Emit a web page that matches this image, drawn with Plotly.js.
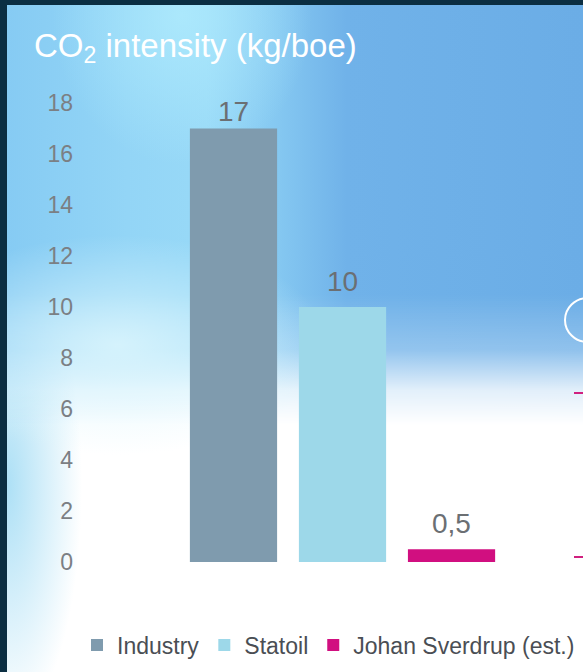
<!DOCTYPE html>
<html>
<head>
<meta charset="utf-8">
<script src="https://cdn.plot.ly/plotly-3.0.1.min.js"></script>
<style>
  html, body { margin: 0; padding: 0; width: 583px; height: 672px; overflow: hidden; background: #0b2e42; }
  #frame { position: absolute; left: 7px; top: 5px; width: 576px; height: 667px; overflow: hidden;
    background:
      radial-gradient(ellipse 75px 240px at 0px 480px, rgba(168,222,245,0.95), rgba(168,222,245,0) 100%),
      #ffffff;
  }
  #sky { position: absolute; left: 0; top: 0; width: 576px; height: 667px;
    background:
      radial-gradient(ellipse 130px 150px at 175px 10px, rgba(175,235,253,0.85), rgba(175,235,253,0) 100%),
      linear-gradient(to right, #86cbf3 0px, #93d5f6 120px, #98d9f7 200px, #85c8f1 270px, #70b2e9 340px, #6badE6 576px);
    -webkit-mask-image: linear-gradient(to bottom, #000 0px, #000 290px, rgba(0,0,0,0.75) 345px, rgba(0,0,0,0.2) 385px, rgba(0,0,0,0) 420px);
    mask-image: linear-gradient(to bottom, #000 0px, #000 290px, rgba(0,0,0,0.75) 345px, rgba(0,0,0,0.2) 385px, rgba(0,0,0,0) 420px);
  }
  #haze { position: absolute; left: 0; top: 0; width: 576px; height: 667px;
    background: radial-gradient(ellipse 210px 110px at 110px 340px, rgba(220,246,253,0.85), rgba(220,246,253,0) 100%);
  }
  #chart { position: absolute; left: 0; top: 0; width: 583px; height: 672px; z-index: 2; }
</style>
</head>
<body>
<div id="frame"><div id="sky"></div><div id="haze"></div></div>
<div id="chart"></div>
<script>
const series = ["Industry", "Statoil", "Johan Sverdrup (est.)"];
const values = [17, 10, 0.5];
const valueLabels = ["17", "10", "0,5"];
const colors = ["#7f9bae", "#9dd8e9", "#d10f80"];
const tickVals = [0, 2, 4, 6, 8, 10, 12, 14, 16, 18];
const labelShift = [0, 8, 8]; // style: gap between bar top and value label

const traces = series.map((name, i) => ({
  type: "bar",
  name: name,
  x: [i],
  y: [values[i]],
  marker: { color: colors[i] },
  width: 0.8,
  hoverinfo: "skip"
}));

const annotations = series.map((name, i) => ({
  x: i, y: values[i], xref: "x", yref: "y",
  text: valueLabels[i],
  showarrow: false,
  xanchor: "center", yanchor: "bottom",
  yshift: labelShift[i],
  font: { family: "Liberation Sans, Arial, sans-serif", size: 28, color: "#6b6f73" }
}));

// plot area spans x 80..583 px, y 103..562 px
const PL = 80, PW = 503, PT = 103, PH = 459;
const px = v => (v - PL) / PW;
const py = v => (PT + PH - v) / PH;

const layout = {
  width: 583,
  height: 672,
  paper_bgcolor: "rgba(0,0,0,0)",
  plot_bgcolor: "rgba(0,0,0,0)",
  margin: { l: PL, r: 583 - PL - PW, t: PT, b: 672 - PT - PH },
  font: { family: "Liberation Sans, Arial, sans-serif" },
  title: {
    text: "CO<sub>2</sub> intensity (kg/boe)",
    font: { family: "Liberation Sans, Arial, sans-serif", size: 33, color: "#ffffff" },
    x: 34 / 583, xanchor: "left", xref: "container",
    y: 1 - 45 / 672, yanchor: "middle", yref: "container"
  },
  xaxis: {
    range: [-1.408, 3.206],
    showticklabels: false, showgrid: false, zeroline: false, showline: false, ticks: "",
    fixedrange: true
  },
  yaxis: {
    range: [0, 18],
    tickvals: tickVals,
    ticktext: tickVals.map(String),
    showgrid: false, zeroline: false, showline: false, ticks: "",
    tickfont: { family: "Liberation Sans, Arial, sans-serif", size: 23, color: "#7b7f84" },
    ticklabelstandoff: 6,
    fixedrange: true
  },
  annotations: annotations,
  showlegend: true,
  legend: {
    orientation: "h",
    x: px(77), xref: "paper", xanchor: "left",
    y: py(645), yref: "paper", yanchor: "middle",
    font: { family: "Liberation Sans, Arial, sans-serif", size: 23, color: "#4a4e54" },
    itemwidth: 30,
    tracegroupgap: 0,
    bgcolor: "rgba(0,0,0,0)"
  },
  shapes: [
    { type: "circle", xref: "paper", yref: "paper", layer: "above",
      x0: px(565), x1: px(610), y0: py(342), y1: py(298),
      line: { color: "#ffffff", width: 2 } },
    { type: "line", xref: "paper", yref: "paper",
      x0: px(574), x1: px(590), y0: py(393), y1: py(393),
      line: { color: "#d0207f", width: 2 } },
    { type: "line", xref: "paper", yref: "paper",
      x0: px(574), x1: px(590), y0: py(557), y1: py(557),
      line: { color: "#d0207f", width: 2 } }
  ]
};

Plotly.newPlot("chart", traces, layout, { displayModeBar: false, staticPlot: true });
</script>
</body>
</html>
